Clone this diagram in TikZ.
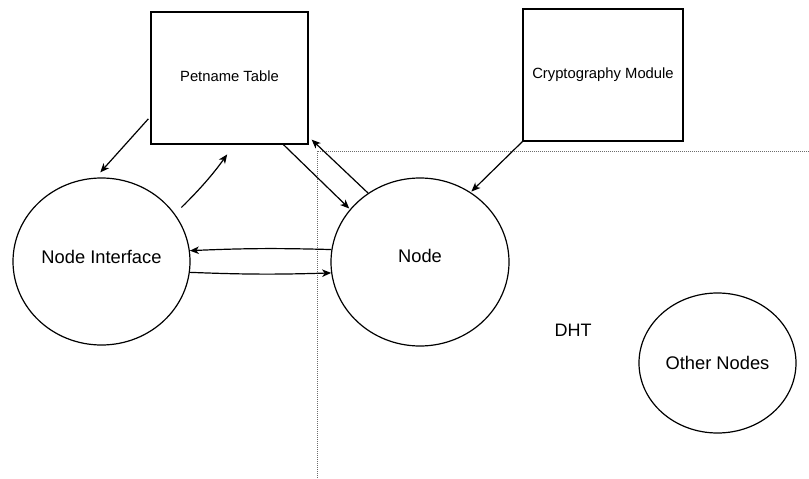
\documentclass[tikz,border=0pt]{standalone}
\usepackage{fontspec}
\setmainfont{Liberation Sans}
\usetikzlibrary{shapes.geometric,arrows.meta,calc}

\tikzset{
  box/.style={draw, line width=1.3pt, minimum width=157pt, minimum height=132pt,
              inner sep=0pt, font=\fontsize{14.8}{17}\selectfont},
  oval/.style={draw, ellipse, line width=1.2pt, inner sep=0pt,
               font=\fontsize{18.3}{22}\selectfont},
  link/.style={line width=1.2pt, -{Stealth[length=9pt,width=7.5pt,inset=2.5pt]}},
  border/.style={line width=1pt, gray!85!black, dash pattern=on 1pt off 1pt}
}

\begin{document}
\begin{tikzpicture}[x=1pt, y=-1pt]
  \useasboundingbox (0,0) rectangle (809,479);

  % boundary of the DHT region
  \coordinate (dhtE) at (809,151);
  \coordinate (dhtC) at (317,151);
  \coordinate (dhtS) at (317,479);
  \draw[border] (dhtE) -- (dhtC) -- (dhtS);

  % components
  \node[box] (pt) at (229.5,78) [text depth=4pt] {Petname Table};
  \node[box, minimum width=160pt] (cm) at (603,75) {Cryptography Module};
  \node[oval, minimum width=177pt, minimum height=167pt, text depth=10pt]
        (ni) at (101.5,261.5) {Node Interface};
  \node[oval, minimum width=178pt, minimum height=168pt, text depth=12pt]
        (nd) at (420,262) {Node};
  \node[oval, minimum width=157pt, minimum height=140pt]
        (on) at (717.5,363) {Other Nodes};
  \node[font=\fontsize{18}{22}\selectfont] (dht) at (573,330) {DHT};

  % interactions
  \draw[link, shorten <=3pt, shorten >=7pt] (pt.206) -- (ni.94);
  \draw[link, shorten <=9pt, shorten >=12pt] (ni.33) to[bend right=5] (pt.-86);
  \draw[link, shorten >=1pt] (pt.-51.5) -- (nd.143.8);
  \draw[link] (nd.127.9) -- ($(pt.south east)+(3,-5)$);
  \draw[link, shorten >=1pt] (cm.south west) -- (nd.54);
  \draw[link] (nd.172.3) to[bend right=2] (ni.7.3);
  \draw[link] (ni.-7.5) to[bend right=2] (nd.-173);
\end{tikzpicture}
\end{document}
